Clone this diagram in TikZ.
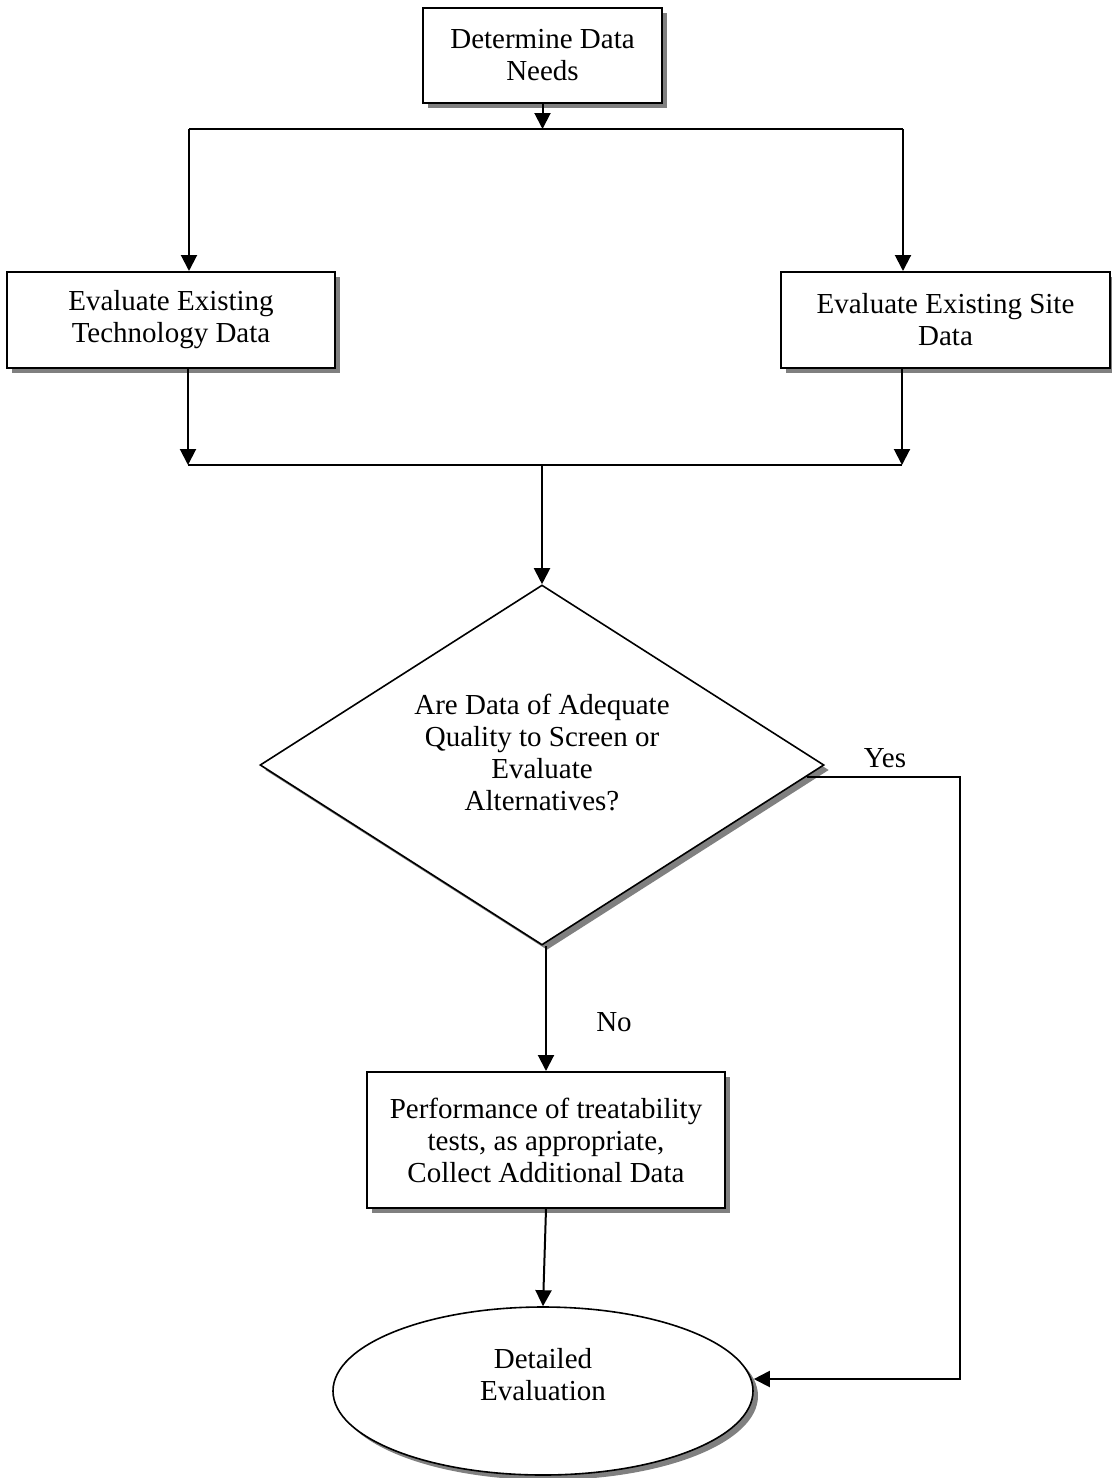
\documentclass[tikz,border=0pt]{standalone}
\usepackage{fontspec}
\setmainfont{Liberation Serif}
\usetikzlibrary{shapes.geometric,shadows,arrows.meta}

\begin{document}
\begin{tikzpicture}[x=0.5pt,y=-0.5pt,
    font=\fontsize{14.5}{16}\selectfont,
    shade/.style={drop shadow={shadow xshift=2.5pt,shadow yshift=-2.5pt,fill=black!50,opacity=1}},
    stepbox/.style={rectangle,draw,line width=1pt,fill=white,align=center,inner sep=0pt,shade},
    decision/.style={diamond,draw,line width=0.8pt,fill=white,inner sep=0pt,
      minimum width=282pt,minimum height=180pt,shade},
    terminal/.style={ellipse,draw,line width=0.8pt,fill=white,inner sep=0pt,
      minimum width=210pt,minimum height=84pt,shade},
    link/.style={line width=1pt},
    flow/.style={link,-{Triangle[length=8pt,width=8pt]}}]
  \useasboundingbox (0,0) rectangle (1112,1478);

  % boxes
  \node[stepbox,minimum width=119.5pt,minimum height=47.5pt] (needs) at (542.5,55.5) {Determine Data\\Needs};
  \node[stepbox,minimum width=164pt,minimum height=48pt] (techdata) at (171,320) {Evaluate Existing\\Technology Data};
  \node[stepbox,minimum width=164.5pt,minimum height=48pt] (sitedata) at (945.5,320) {Evaluate Existing Site\\Data};
  \node[decision] (quality) at (542,765) {};
  \node[align=center] (qtext) at (542,752) {Are Data of Adequate\\Quality to Screen or\\Evaluate\\Alternatives?};
  \node[stepbox,minimum width=179pt,minimum height=68pt] (treat) at (546,1140) {Performance of treatability\\tests, as appropriate,\\Collect Additional Data};
  \node[terminal] (evaluation) at (543,1391) {};
  \node[align=center] (etext) at (543,1375) {Detailed\\Evaluation};

  % branch points
  \coordinate (splitL) at (189,129);
  \coordinate (splitR) at (903,129);
  \coordinate (joinL) at (188,465);
  \coordinate (joinR) at (902,465);
  \coordinate (yesturn) at (960,777);

  \draw[flow] (needs.south) -- (needs.south |- splitL);
  \draw[link] (splitL) -- (splitR);
  \draw[flow] (splitL) -- (splitL |- techdata.north);
  \draw[flow] (splitR) -- (splitR |- sitedata.north);
  \draw[flow] (techdata.south -| joinL) -- (joinL);
  \draw[flow] (sitedata.south -| joinR) -- (joinR);
  \draw[link] (joinL) -- (joinR);
  \draw[flow] (quality.north |- joinL) -- (quality.north);
  \draw[flow] ([xshift=-9pt,yshift=-6pt]quality.east) -- (yesturn) |- ([yshift=6pt]evaluation.east);
  \draw[flow] (treat.north |- quality.south) -- (treat.north);
  \draw[flow] (treat.south) -- (evaluation.north);

  \node (yes) at (885,758) {Yes};
  \node (no) at (614,1022) {No};
\end{tikzpicture}
\end{document}
